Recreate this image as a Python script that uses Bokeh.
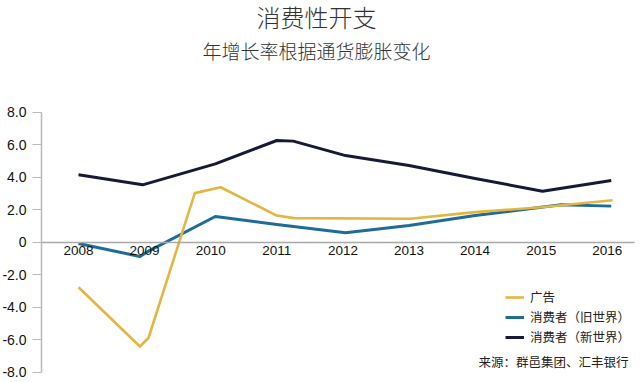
from bokeh.plotting import figure
from bokeh.models import (Range1d, LinearAxis, FixedTicker, Label, Legend, LegendItem,
                          PrintfTickFormatter)
from bokeh.embed import file_html
from bokeh.resources import INLINE

# ---- data (fractional year positions) ----
years = [2008, 2009, 2010, 2011, 2012, 2013, 2014, 2015, 2016]
year_labels = ["2008", "2009", "2010", "2011", "2012", "2013", "2014", "2015", "2016"]

ad_x = [2008.0, 2008.93, 2009.06, 2009.76, 2010.15, 2011.0, 2011.26, 2013.02, 2014.0, 2015.0, 2016.08]
ad_y = [-2.77, -6.42, -5.88, 3.02, 3.38, 1.64, 1.48, 1.44, 1.85, 2.15, 2.58]

old_x = [2008.0, 2008.93, 2009.06, 2010.07, 2011.0, 2012.04, 2013.0, 2014.0, 2015.0, 2015.3, 2016.06]
old_y = [-0.08, -0.88, -0.55, 1.58, 1.09, 0.58, 1.03, 1.64, 2.15, 2.3, 2.22]

new_x = [2008.0, 2008.97, 2010.07, 2011.0, 2011.25, 2012.04, 2013.0, 2014.0, 2015.02, 2016.06]
new_y = [4.15, 3.53, 4.82, 6.26, 6.22, 5.33, 4.72, 3.92, 3.14, 3.8]

y_ticks = [-8, -6, -4, -2, 0, 2, 4, 6, 8]

title_text = "消费性开支"
subtitle_text = "年增长率根据通货膨胀变化"
source_text = "来源：群邑集团、汇丰银行"
series_names = ["广告", "消费者（旧世界）", "消费者（新世界）"]

CJK = "Noto Sans CJK SC"
CJK_LIGHT = "Noto Sans CJK SC Light, Noto Sans CJK SC"
NUM = "Liberation Sans"

W, H = 640, 382
# canvas px -> data mapping: year = 2008 + (px-78)/66.1 ; value = (241.7-py)/16.25
PXY = 66.1
PXV = 16.25
x0 = 2008 + (0 - 78) / PXY
x1 = 2008 + (W - 78) / PXY
y1 = (241.7 - 0) / PXV
y0 = (241.7 - H) / PXV
axis_x = 2008 + (41 - 78) / PXY
axis_x_end = 2008 + (634 - 78) / PXY

p = figure(width=W, height=H, output_backend="svg", toolbar_location=None,
           x_range=Range1d(x0, x1), y_range=Range1d(y0, y1),
           x_axis_location=None, y_axis_location=None,
           min_border=0, min_border_left=0, min_border_right=0,
           min_border_top=0, min_border_bottom=0)
p.outline_line_color = None
p.xgrid.visible = False
p.ygrid.visible = False
p.background_fill_color = "white"
p.border_fill_color = "white"

# y axis
yax = LinearAxis(fixed_location=axis_x, bounds=(-8, 8),
                 ticker=FixedTicker(ticks=y_ticks),
                 formatter=PrintfTickFormatter(format="%.1f"))
yax.major_label_overrides = {0: "0"}
yax.axis_line_color = "#b8b8b8"
yax.axis_line_width = 1.5
yax.major_tick_line_color = "#b8b8b8"
yax.major_tick_line_width = 1.2
yax.major_tick_out = 9
yax.major_tick_in = 0
yax.minor_tick_line_color = None
yax.major_label_standoff = 6
yax.major_label_text_font = NUM
yax.major_label_text_font_size = "14px"
yax.major_label_text_color = "#111111"
p.add_layout(yax, "left")

# x axis at zero
xax = LinearAxis(fixed_location=0, bounds=(axis_x, axis_x_end),
                 ticker=FixedTicker(ticks=years))
xax.major_label_overrides = {y: l for y, l in zip(years, year_labels)}
xax.axis_line_color = "#a8a8a8"
xax.axis_line_width = 1.5
xax.major_tick_line_color = None
xax.minor_tick_line_color = None
xax.major_tick_out = 0
xax.major_tick_in = 0
xax.major_label_standoff = 4
xax.major_label_text_font = NUM
xax.major_label_text_font_size = "13.5px"
xax.major_label_text_color = "#111111"
p.add_layout(xax, "below")

# lines
r_new = p.line(new_x, new_y, line_color="#161a36", line_width=3, line_join="round")
r_old = p.line(old_x, old_y, line_color="#1f6c97", line_width=3, line_join="round")
r_ad = p.line(ad_x, ad_y, line_color="#e2b640", line_width=2.6, line_join="round")

legend = Legend(items=[LegendItem(label=series_names[0], renderers=[r_ad]),
                       LegendItem(label=series_names[1], renderers=[r_old]),
                       LegendItem(label=series_names[2], renderers=[r_new])],
                location=(505, 36))
legend.background_fill_alpha = 0
legend.border_line_color = None
legend.padding = 0
legend.margin = 0
legend.spacing = 1
legend.glyph_width = 19
legend.glyph_height = 18
legend.label_height = 18
legend.label_standoff = 6
legend.label_text_font = CJK
legend.label_text_font_size = "12.5px"
legend.label_text_color = "#222222"
p.add_layout(legend, "center")

p.add_layout(Label(x=316, y=366, x_units="screen", y_units="screen", text=title_text,
                   text_align="center", text_baseline="middle", text_font=CJK_LIGHT,
                   text_font_size="24px", text_color="#333333"))
p.add_layout(Label(x=316, y=332, x_units="screen", y_units="screen", text=subtitle_text,
                   text_align="center", text_baseline="middle", text_font=CJK_LIGHT,
                   text_font_size="19px", text_color="#333333"))
p.add_layout(Label(x=628, y=21, x_units="screen", y_units="screen", text=source_text,
                   text_align="right", text_baseline="middle", text_font=CJK,
                   text_font_size="12.5px", text_color="#222222"))

open("out.html", "w").write(file_html(p, INLINE))
